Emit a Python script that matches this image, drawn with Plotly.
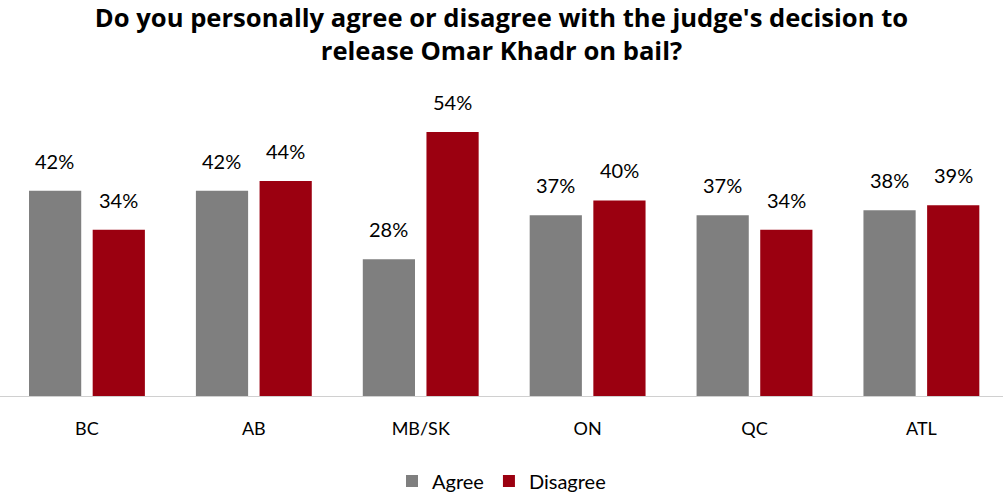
import plotly.graph_objects as go

categories = ["BC", "AB", "MB/SK", "ON", "QC", "ATL"]
agree = [42, 42, 28, 37, 37, 38]
disagree = [34, 44, 54, 40, 34, 39]

title_text = "Do you personally agree or disagree with the judge's decision to<br>release Omar Khadr on bail?"
FONT = "Lato"
GRAY = "#7f7f7f"
RED = "#9b0010"

W, H = 1003, 494

fig = go.Figure()
fig.add_trace(go.Bar(name="Agree", x=categories, y=agree, marker=dict(color=GRAY, line=dict(width=0))))
fig.add_trace(go.Bar(name="Disagree", x=categories, y=disagree, marker=dict(color=RED, line=dict(width=0))))

annotations = []
for series, shift in ((agree, -32), (disagree, 32)):
    for c, v in zip(categories, series):
        annotations.append(dict(x=c, y=v, text=f"{v}%", showarrow=False, xshift=shift, yshift=30,
                                yanchor="middle", font=dict(family=FONT, size=20, color="#000")))

fig.update_layout(
    width=W, height=H,
    margin=dict(l=0, r=0, t=90, b=98, autoexpand=False),
    paper_bgcolor="white", plot_bgcolor="white",
    barmode="group", bargap=0.237, bargroupgap=0.18,
    title=dict(text=title_text, x=0.5, xanchor="center", xref="paper",
               yref="container", y=1 - 27 / H, yanchor="middle",
               font=dict(family="Open Sans", size=25.6, color="#000", weight="bold")),
    xaxis=dict(showline=True, linecolor="#d0d0d0", linewidth=1, ticks="", showgrid=False,
               range=[-0.521, 5.489],
               tickfont=dict(family=FONT, size=18, color="#000"), ticklabelstandoff=16),
    yaxis=dict(visible=False, range=[0, 62.6]),
    legend=dict(orientation="h", x=0.5, xanchor="center", y=-0.278, yanchor="middle",
                font=dict(family=FONT, size=20, color="#000"), itemwidth=30, traceorder="normal"),
    annotations=annotations,
    showlegend=True,
)
fig.write_html("out.html", config={"displayModeBar": False},
               post_script="document.body.style.margin='0';document.body.style.overflow='hidden';")
